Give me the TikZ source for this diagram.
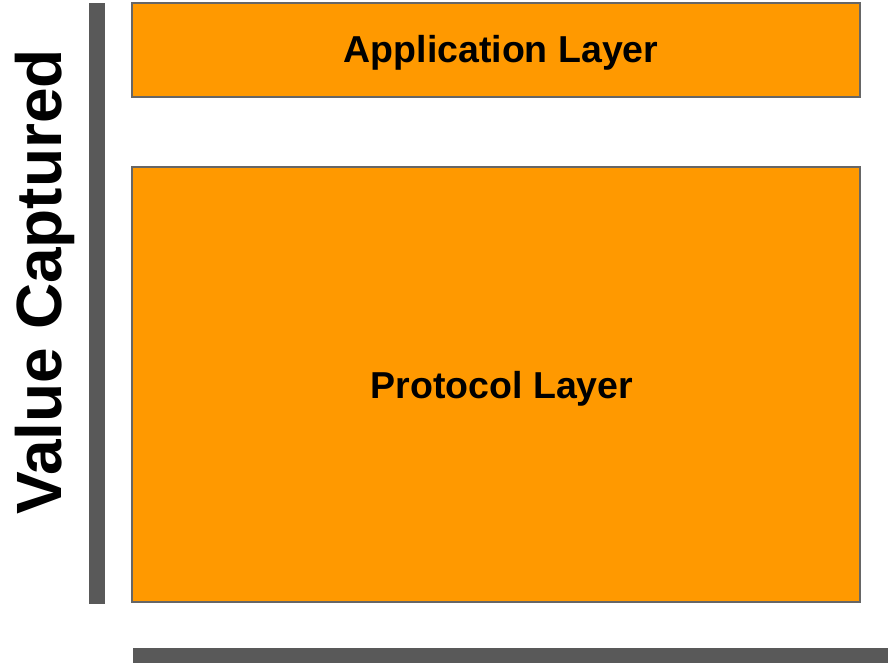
\documentclass[tikz,border=0pt]{standalone}
\usepackage{fontspec}
\setmainfont{Liberation Sans}
\definecolor{boxorange}{HTML}{FF9900}
\definecolor{boxedge}{HTML}{666666}
\definecolor{bargray}{HTML}{595959}
\begin{document}
\begin{tikzpicture}[x=1pt,y=-1pt,
  layer/.style={draw=boxedge,line width=1.5pt,fill=boxorange},
  axisbar/.style={fill=bargray,draw=none},
  lbl/.style={font=\fontsize{37.5}{44}\selectfont\bfseries,text=black}]
\useasboundingbox (0,0) rectangle (895,664);
\fill[white] (0,0) rectangle (895,664);
\path[layer] (132,3) rectangle (860,97);
\node[lbl] (app) at (501,53) {Application Layer};
\path[layer] (132,167) rectangle (860,602);
\node[lbl] (proto) at (502,389) {Protocol Layer};
\path[axisbar] (89,3) rectangle (105,604);
\path[axisbar] (133,648) rectangle (888,663);
\node[font=\fontsize{64}{70}\selectfont\bfseries,rotate=90] (val) at (45,282) {Value Captured};
\end{tikzpicture}
\end{document}
